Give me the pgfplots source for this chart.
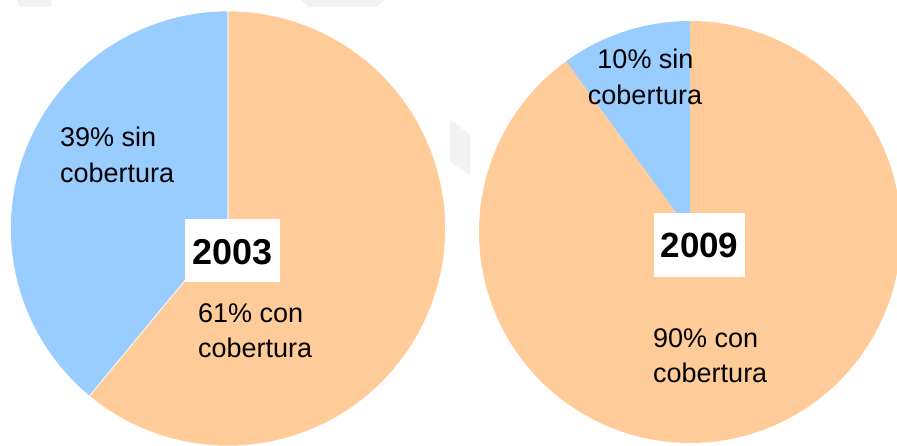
\documentclass[border=0pt]{standalone}
\usepackage{pgfplots}
\pgfplotsset{compat=1.18}
\usepackage{fontspec}
\setmainfont{Liberation Sans}
\definecolor{sinblue}{HTML}{99CCFF}
\definecolor{conorange}{HTML}{FFCC99}
\definecolor{wm}{HTML}{F2F2F2}
% data: percent without coverage (sin cobertura)
\def\sinA{39}\def\conA{61}   % 2003
\def\sinB{10}\def\conB{90}   % 2009
% pie geometry (in picture pixels)
\def\cxA{228}\def\cyA{216.5}\def\rA{217.5}
\def\cxB{690}\def\cyB{213}\def\rB{211}
\pgfmathsetmacro{\endA}{90+3.6*\sinA}
\pgfmathsetmacro{\endB}{90+3.6*\sinB}
\begin{document}
\begin{tikzpicture}
\begin{axis}[
  width=897pt, height=445pt, scale only axis,
  xmin=0, xmax=897, ymin=0, ymax=445,
  hide axis, clip=true,
]
% faint background shapes
\fill[wm] (axis cs:17,445) -- (axis cs:51,445) -- (axis cs:51,438) -- (axis cs:20,438) -- cycle;
\fill[wm] (axis cs:300,445) -- (axis cs:385,445) -- (axis cs:377,438) -- (axis cs:309,438) -- cycle;
\fill[wm] (axis cs:450,326) -- (axis cs:470,310) -- (axis cs:470,270) -- (axis cs:450,283) -- cycle;
% 2003 pie
\addplot[fill=sinblue, draw=white, line width=0.6pt, domain=90:\endA, samples=120]
  ({\cxA+\rA*cos(x)}, {\cyA+\rA*sin(x)}) -- (axis cs:\cxA,\cyA) -- cycle;
\addplot[fill=conorange, draw=white, line width=0.6pt, domain=\endA:450, samples=160]
  ({\cxA+\rA*cos(x)}, {\cyA+\rA*sin(x)}) -- (axis cs:\cxA,\cyA) -- cycle;
% 2009 pie
\addplot[fill=sinblue, draw=none, domain=90:\endB, samples=60]
  ({\cxB+\rB*cos(x)}, {\cyB+\rB*sin(x)}) -- (axis cs:\cxB,\cyB) -- cycle;
\addplot[fill=conorange, draw=none, domain=\endB:450, samples=200]
  ({\cxB+\rB*cos(x)}, {\cyB+\rB*sin(x)}) -- (axis cs:\cxB,\cyB) -- cycle;
% year boxes
\fill[white] (axis cs:185,163) rectangle (axis cs:280,226);
\fill[white] (axis cs:654,168) rectangle (axis cs:745,232);
\node[anchor=base, inner sep=0pt, font=\fontsize{36}{40}\selectfont\bfseries] at (axis cs:232.5,180) {2003};
\node[anchor=base, inner sep=0pt, font=\fontsize{35}{40}\selectfont\bfseries] at (axis cs:699.5,187) {2009};
% labels
\begin{scope}[every node/.style={inner sep=0pt, font=\fontsize{27}{36}\selectfont}]
\node[anchor=base west] at (axis cs:60,298) {39\% sin};
\node[anchor=base west] at (axis cs:60,262) {cobertura};
\node[anchor=base west] at (axis cs:198,123) {61\% con};
\node[anchor=base west] at (axis cs:198,88) {cobertura};
\node[anchor=base] at (axis cs:645.5,376) {10\% sin};
\node[anchor=base] at (axis cs:645,340) {cobertura};
\node[anchor=base west] at (axis cs:653,98) {90\% con};
\node[anchor=base west] at (axis cs:653,63) {cobertura};
\end{scope}
\end{axis}
\pgfresetboundingbox
\useasboundingbox (current axis.south west) rectangle (current axis.north east);
\end{tikzpicture}
\end{document}
